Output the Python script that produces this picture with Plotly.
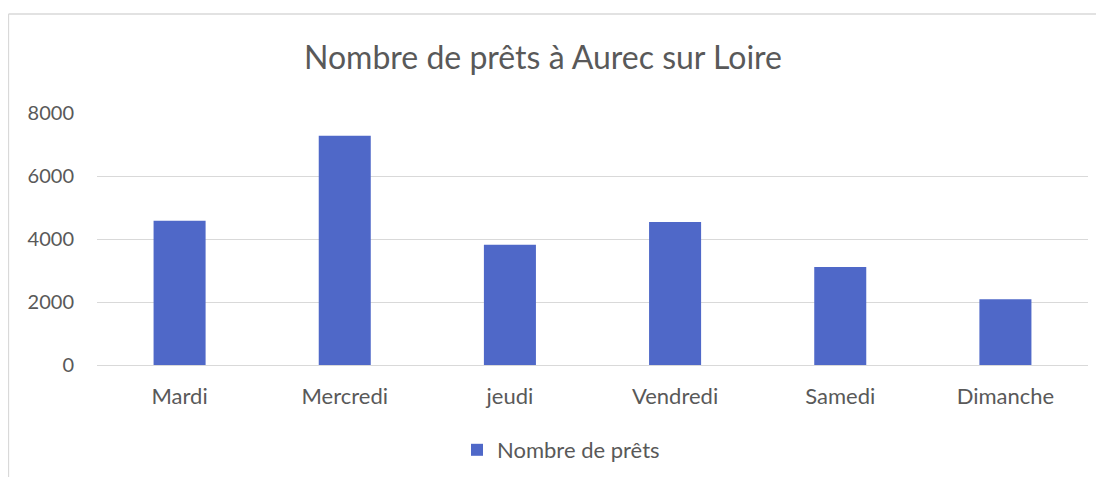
import plotly.graph_objects as go

days = ["Mardi", "Mercredi", "jeudi", "Vendredi", "Samedi", "Dimanche"]
prets = [4580, 7280, 3820, 4540, 3110, 2090]
y_ticks = [0, 2000, 4000, 6000, 8000]
title_text = "Nombre de prêts à Aurec sur Loire"
series_name = "Nombre de prêts"

W, H = 1104, 477
OFF = 8  # page body margin in the screenshot
# desired page-pixel plot area: x 97..1088, y 113..365
L = 97 - OFF
T = 113 - OFF
R = W - (1088 - OFF)
B = H - (365 - OFF)
pw, ph = W - L - R, H - T - B

def px_x(px):  # page pixel -> paper x
    return (px - OFF - L) / pw

def px_y(py):  # page pixel -> paper y
    return (H - B - (py - OFF)) / ph

fig = go.Figure()
fig.add_trace(go.Bar(
    x=days, y=prets, name=series_name,
    marker=dict(color="#4F68C8", line=dict(width=0)),
    width=0.315,
))

fig.update_layout(
    width=W, height=H,
    margin=dict(l=L, r=R, t=T, b=B),
    paper_bgcolor="white", plot_bgcolor="white",
    font=dict(family="Lato", color="#595959", size=21),
    title=dict(text=title_text, x=(543 - OFF) / W, xanchor="center",
               y=1 - (58 - OFF) / H, yanchor="middle",
               font=dict(size=32, color="#595959", family="Lato")),
    showlegend=True,
    legend=dict(orientation="h", x=px_x(457), xanchor="left",
                y=px_y(450), yanchor="middle",
                font=dict(size=22, color="#595959"), bgcolor="rgba(0,0,0,0)"),
    xaxis=dict(showgrid=False, showline=False, ticks="", ticklabelstandoff=16,
               tickfont=dict(size=22, color="#595959")),
    yaxis=dict(range=[0, 8000], tickvals=y_ticks, showgrid=True,
               gridcolor="#D9D9D9", gridwidth=1.3, zeroline=True,
               zerolinecolor="#D9D9D9", zerolinewidth=1.3, showline=False,
               ticks="", ticklabelstandoff=22,
               tickfont=dict(size=20, color="#595959")),
    shapes=[
        dict(type="line", xref="paper", yref="paper",
             x0=px_x(8.5), x1=px_x(W + 20), y0=px_y(14), y1=px_y(14),
             line=dict(color="#D9D9D9", width=1.3)),
        dict(type="line", xref="paper", yref="paper",
             x0=px_x(8.5), x1=px_x(8.5), y0=px_y(14), y1=px_y(H + 20),
             line=dict(color="#D9D9D9", width=1.3)),
    ],
)

fig.write_html("out.html")
